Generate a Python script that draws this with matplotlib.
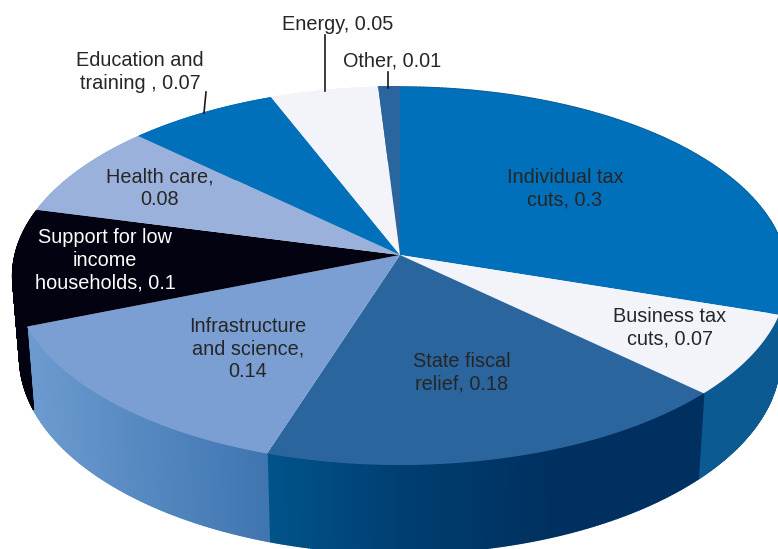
import numpy as np
import matplotlib
matplotlib.use("Agg")
import matplotlib.pyplot as plt
from matplotlib.collections import PolyCollection
from matplotlib.colors import LinearSegmentedColormap
from matplotlib.patches import Polygon

plt.rcParams['font.family'] = ['Liberation Sans', 'DejaVu Sans']

W, H = 778, 549

categories = ["Individual tax cuts", "Business tax cuts", "State fiscal relief",
              "Infrastructure and science", "Support for low income households",
              "Health care", "Education and training", "Energy", "Other"]
shares = [0.3, 0.07, 0.18, 0.14, 0.1, 0.08, 0.07, 0.05, 0.01]
labels = ["Individual tax\ncuts, 0.3", "Business tax\ncuts, 0.07", "State fiscal\nrelief, 0.18",
          "Infrastructure\nand science,\n0.14", "Support for low\nincome\nhouseholds, 0.1",
          "Health care,\n0.08", "Education and\ntraining , 0.07", "Energy, 0.05", "Other, 0.01"]
top_colors = ["#0070ba", "#f3f4fa", "#2a659e", "#7b9fd3", "#020210",
              "#9ab2db", "#0070ba", "#f3f4fa", "#2a659e"]
side_colors = [("#0b5a91", "#0b5a91"), ("#0b5a91", "#0b5a91"), ("#00548a", "#003d70", "#00305f", "#00305f"),
               ("#6c9bd0", "#3f75b0"), ("#020210", "#020210"), ("#9ab2db", "#9ab2db"),
               ("#0070ba", "#0070ba"), ("#f3f4fa", "#f3f4fa"), ("#2a659e", "#2a659e")]
label_xy = [(565, 189), (670, 328), (462, 373), (248, 349), (105, 260),
            (160, 188), (140, 72), (338, 24), (392, 61)]
label_colors = ["#262626"] * 4 + ["white"] + ["#262626"] * 4
leaders = [((206, 92), (204, 113)), ((325, 35), (325, 91)), ((388, 72), (388, 88))]

CX, CY = 400, 255
RX, RY, PERSP = 385, 186.7, 0.111


def project(theta):
    # unit circle -> tilted disc, near edge drawn larger
    X, Y = np.cos(np.radians(theta)), np.sin(np.radians(theta))
    d = 1 + PERSP * Y
    return CX + RX * X / d, CY - RY * Y / d


def lower(x, y):
    # bottom rim of the disc
    return CX + 0.982 * (x - CX), y + 83 + (y - 327) * 0.04


fig = plt.figure(figsize=(W / 100, H / 100), dpi=100)
ax = fig.add_axes([0, 0, 1, 1])
wedges, _ = ax.pie(shares, startangle=90, counterclock=False)
angles = [(w.theta1, w.theta2) for w in wedges]
for w in wedges:
    w.remove()
ax.set_aspect("auto")
ax.set_xlim(0, W)
ax.set_ylim(H, 0)
ax.axis("off")

# side walls first, top face goes over them
for (t1, t2), cols in zip(angles, side_colors):
    x, y = project(np.linspace(t1, t2, 200))
    bx, by = lower(x, y)
    quads = [[(x[i], y[i]), (x[i + 1], y[i + 1]), (bx[i + 1], by[i + 1]), (bx[i], by[i])]
             for i in range(len(x) - 1)]
    cmap = LinearSegmentedColormap.from_list("wall", cols)
    pos = (x[:-1] - x.min()) / max(np.ptp(x), 1)
    shades = cmap(pos)
    ax.add_collection(PolyCollection(quads, facecolors=shades, edgecolors=shades,
                                     linewidths=1.0, zorder=1))

for (t1, t2), col in zip(angles, top_colors):
    x, y = project(np.linspace(t1, t2, 80))
    ax.add_patch(Polygon(np.r_[[[CX, CY]], np.c_[x, y]], closed=True, fc=col, ec="none", zorder=3))

for a, b in leaders:
    ax.plot([a[0], b[0]], [a[1], b[1]], color="#1a1a1a", lw=1.2, zorder=4)

for txt, (x, y), c in zip(labels, label_xy, label_colors):
    ax.text(x, y, txt, ha="center", va="center", fontsize=14.3, color=c,
            linespacing=1.26, zorder=5)

fig.savefig("out.png", dpi=100)
